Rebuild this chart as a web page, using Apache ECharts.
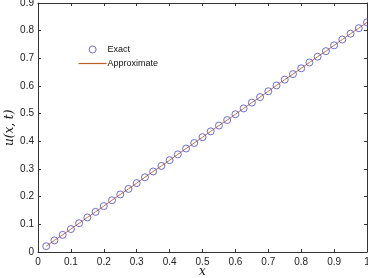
<!DOCTYPE html>
<html><head><meta charset="utf-8">
<script src="https://cdn.jsdelivr.net/npm/echarts@6/dist/echarts.min.js"></script>
<style>html,body{margin:0;padding:0;background:#fff}#c{width:368px;height:278px}</style>
</head><body><div id="c"></div>
<script>
var xValues = [0.025,0.05,0.075,0.1,0.125,0.15,0.175,0.2,0.225,0.25,0.275,0.3,0.325,0.35,0.375,0.4,0.425,0.45,0.475,0.5,0.525,0.55,0.575,0.6,0.625,0.65,0.675,0.7,0.725,0.75,0.775,0.8,0.825,0.85,0.875,0.9,0.925,0.95,0.975,1.0];
var exactValues = [0.021,0.042,0.062,0.083,0.104,0.125,0.145,0.166,0.187,0.208,0.228,0.249,0.270,0.291,0.311,0.332,0.353,0.374,0.394,0.415,0.436,0.457,0.477,0.498,0.519,0.540,0.560,0.581,0.602,0.623,0.643,0.664,0.685,0.706,0.726,0.747,0.768,0.789,0.809,0.830];
var approxValues = [0.021,0.042,0.062,0.083,0.104,0.125,0.145,0.166,0.187,0.208,0.228,0.249,0.270,0.291,0.311,0.332,0.353,0.374,0.394,0.415,0.436,0.457,0.477,0.498,0.519,0.540,0.560,0.581,0.602,0.623,0.643,0.664,0.685,0.706,0.726,0.747,0.768,0.789,0.809,0.830];
var seriesNames = ['Exact','Approximate'];
var xTitle = 'x';
var yTitle = 'u(x, t)';

function pairs(xs, ys){ return xs.map(function(x,i){return [x, ys[i]];}); }
var axisCol = '#333';
var markerCol = '#4a4ac8';
var lineCol = '#c8743c';
var chart = echarts.init(document.getElementById('c'));
var baseAxis = {
  type:'value', splitLine:{show:false},
  axisLine:{show:true, onZero:false, lineStyle:{color:axisCol, width:1}},
  axisTick:{show:true, inside:true, length:3, lineStyle:{color:axisCol}},
  axisLabel:{color:'#222', fontSize:10, fontFamily:'Liberation Sans, Arial, sans-serif'}
};
function ax(extra){ return Object.assign({}, JSON.parse(JSON.stringify(baseAxis)), extra); }
var titleFont = {fontFamily:'DejaVu Serif, serif', fontStyle:'italic', fontSize:12, fill:'#111'};
chart.setOption({
  animation:false,
  grid:{left:38, right:1, top:3, bottom:26, containLabel:false, outerBoundsMode:'none'},
  xAxis:[
    ax({min:0, max:1, interval:0.1, position:'bottom', axisLabel:Object.assign({}, baseAxis.axisLabel, {margin:5})}),
    ax({min:0, max:1, interval:0.1, position:'top', axisLabel:{show:false}})
  ],
  yAxis:[
    ax({min:0, max:0.9, interval:0.1, position:'left', axisLabel:Object.assign({}, baseAxis.axisLabel, {margin:4})}),
    ax({min:0, max:0.9, interval:0.1, position:'right', axisLabel:{show:false}})
  ],
  graphic:[
    {type:'text', left:199, top:266, style:Object.assign({text:xTitle}, titleFont)},
    {type:'text', x:4, y:146, rotation:Math.PI/2, style:Object.assign({text:yTitle}, titleFont)}
  ],
  legend:{
    orient:'vertical', left:73, top:40, itemWidth:28, itemHeight:7, itemGap:5,
    textStyle:{fontSize:9, color:'#111', fontFamily:'Liberation Sans, Arial, sans-serif', padding:[0,0,0,-4]},
    data:[
      {name:seriesNames[0], icon:'circle', itemStyle:{color:'rgba(255,255,255,0)', borderColor:markerCol, borderWidth:1}},
      {name:seriesNames[1], itemStyle:{opacity:0}, lineStyle:{width:1.2, color:'#b86028'}}
    ]
  },
  series:[
    {name:seriesNames[1], type:'line', data:pairs(xValues, approxValues), showSymbol:false, symbol:'none',
     lineStyle:{color:lineCol, width:1}, itemStyle:{color:lineCol}, z:2},
    {name:seriesNames[0], type:'scatter', data:pairs(xValues, exactValues), symbol:'circle', symbolSize:7,
     itemStyle:{color:'rgba(255,255,255,0)', borderColor:markerCol, borderWidth:1}, z:3}
  ]
});
</script></body></html>
